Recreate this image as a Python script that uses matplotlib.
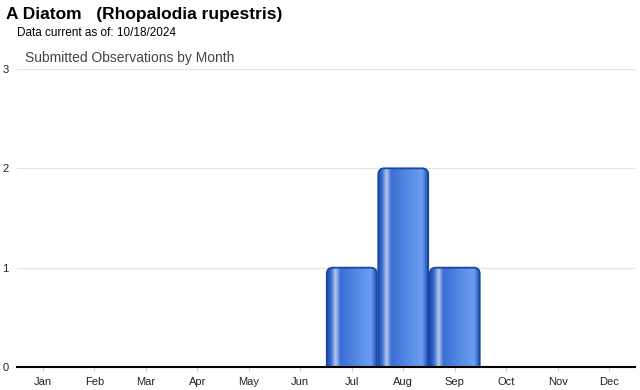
import numpy as np
import matplotlib.pyplot as plt
from matplotlib.patches import FancyBboxPatch
from matplotlib.colors import LinearSegmentedColormap

months = ["Jan", "Feb", "Mar", "Apr", "May", "Jun",
          "Jul", "Aug", "Sep", "Oct", "Nov", "Dec"]
counts = [0, 0, 0, 0, 0, 0, 1, 2, 1, 0, 0, 0]
y_ticks = [0, 1, 2, 3]

plt.rcParams['font.family'] = ['Liberation Sans', 'DejaVu Sans']

fig = plt.figure(figsize=(6.4, 3.9), dpi=100)
ax = fig.add_axes([17 / 640, 23 / 390, 618 / 640, 298 / 390])

# horizontal gradient imitating the glossy cylinder bars
grad = LinearSegmentedColormap.from_list("bar", [
    (0.00, "#1d4db0"), (0.08, "#3a6ccf"), (0.17, "#b4c8ea"),
    (0.27, "#3c6ed4"), (0.55, "#5186e2"), (0.88, "#6c9ef2"),
    (1.00, "#1f52b5")])
g = np.linspace(0, 1, 256).reshape(1, -1)

width = 0.97
for i, c in enumerate(counts):
    if c <= 0:
        continue
    x0 = i - width / 2
    patch = FancyBboxPatch((x0, -0.3), width, c + 0.3,
                           boxstyle="round,pad=0,rounding_size=0.12",
                           mutation_aspect=0.52,
                           facecolor="none", edgecolor="#1846a3", lw=1.3, zorder=3)
    ax.add_patch(patch)
    im = ax.imshow(g, cmap=grad, aspect="auto", extent=(x0, x0 + width, 0, c),
                   zorder=2, interpolation="bilinear")
    im.set_clip_path(patch)

ax.set_xlim(-0.5, 11.5)
ax.set_ylim(0, 3)
ax.set_yticks(y_ticks)
ax.set_xticks(range(len(months)))
ax.set_xticklabels(months, fontsize=8, color="#222222")
ax.set_yticklabels([str(t) for t in y_ticks], fontsize=8, color="#222222")
ax.tick_params(axis="y", length=0, pad=6)
ax.tick_params(axis="x", length=3, color="#cccccc", pad=4)
ax.grid(axis="y", color="#e3e3e3", lw=0.8, zorder=0)
ax.set_axisbelow(True)
for s in ["top", "right", "left"]:
    ax.spines[s].set_visible(False)
ax.spines["bottom"].set_color("black")
ax.spines["bottom"].set_linewidth(1.5)
ax.spines["bottom"].set_zorder(5)

fig.text(6 / 640, 1 - 15 / 390, "A Diatom   (Rhopalodia rupestris)",
         fontsize=12.5, fontweight="bold", va="center", ha="left")
fig.text(17 / 640, 1 - 33 / 390, "Data current as of: 10/18/2024",
         fontsize=8.5, va="center", ha="left")
fig.text(25 / 640, 1 - 58 / 390, "Submitted Observations by Month",
         fontsize=10, va="center", ha="left", color="#444444")

fig.savefig("out.png", dpi=100)
